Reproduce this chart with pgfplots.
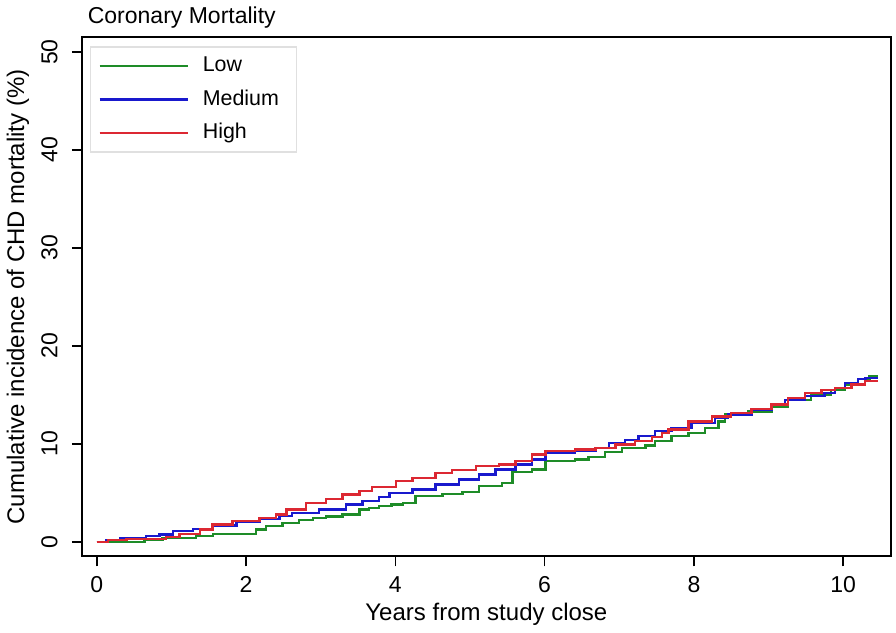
\documentclass[border=0pt]{standalone}
\usepackage{fontspec}
\setmainfont{Liberation Sans}
\usepackage{pgfplots}
\pgfplotsset{compat=1.18}
\definecolor{cLow}{RGB}{30,140,40}
\definecolor{cMed}{RGB}{25,25,205}
\definecolor{cHigh}{RGB}{220,40,50}
\begin{document}
\begin{tikzpicture}
\begin{axis}[
  scale only axis, width=404.5pt, height=259.5pt,
  xmin=-0.2, xmax=10.64, ymin=-1.5, ymax=51.5,
  xtick={0,2,...,10}, ytick={0,10,...,50},
  tick align=outside, tick pos=left, major tick length=5pt,
  axis line style={line width=1pt},
  tick style={line width=0.8pt, black},
  /pgf/number format/assume math mode=true,
  ticklabel style={font=\fontsize{11.5}{13}\selectfont},
  yticklabel style={xshift=-3.5pt, rotate=90, anchor=south},
  xticklabel style={yshift=-1.5pt},
  xlabel={Years from study close},
  ylabel={Cumulative incidence of CHD mortality (\%)},
  label style={font=\fontsize{12}{14}\selectfont},
  xlabel style={at={(axis description cs:0.5,-0.112)}, anchor=center},
  ylabel style={at={(axis description cs:-0.079,0.5)}, anchor=center},
  title={Coronary Mortality},
  title style={at={(axis description cs:0,1)}, anchor=base west, yshift=1pt, xshift=-0.5pt, font=\fontsize{11.5}{13}\selectfont},
  legend style={at={(axis description cs:0,1)}, anchor=north west, xshift=4pt, yshift=-4.5pt,
    draw=black!12, line width=0.6pt, inner xsep=4pt, inner ysep=2.5pt, row sep=2.75pt,
    font=\fontsize{10.7}{12}\selectfont,
    nodes={text height=8pt, text depth=2pt, inner ysep=2pt}},
  legend cell align=left,
  legend image code/.code={\draw[#1, line width=1.2pt] (0pt,0pt) -- (44pt,0pt); \path (49pt,0pt);},
  every axis plot/.append style={line width=1.2pt, const plot, mark=none},
]
\addplot[cLow] coordinates {
(0,0) (0.64,0.24) (0.88,0.4) (1.33,0.58) (1.56,0.82) (2.13,1.26) (2.27,1.6)
(2.49,1.94) (2.71,2.2) (2.9,2.4) (3.07,2.6) (3.29,2.8) (3.52,3.3) (3.65,3.47)
(3.78,3.64) (3.95,3.8) (4.1,3.98) (4.27,4.66) (4.63,4.9) (4.9,5.07) (5.12,5.68)
(5.43,6.02) (5.57,7.1) (5.83,7.38) (6.01,8.23) (6.41,8.4) (6.59,8.67) (6.81,9.15)
(7.04,9.59) (7.35,9.83) (7.48,10.28) (7.7,10.8) (7.93,11.1) (8.15,11.6) (8.33,12.3)
(8.42,13.0) (8.73,13.3) (9.04,13.8) (9.26,14.5) (9.57,15.0) (9.84,15.5) (10.02,16.05)
(10.2,16.6) (10.35,16.9) (10.47,16.9)};
\addlegendentry{\makebox[41pt][l]{Low}}
\addplot[cMed] coordinates {
(0,0) (0.13,0.17) (0.31,0.41) (0.66,0.58) (0.84,0.75) (1.02,1.1) (1.29,1.33)
(1.55,1.66) (1.87,2.0) (2.18,2.35) (2.45,2.62) (2.62,2.96) (2.98,3.3) (3.34,3.8)
(3.56,4.15) (3.78,4.59) (3.92,5.0) (4.23,5.34) (4.54,5.85) (4.85,6.36) (5.12,6.87)
(5.34,7.38) (5.61,7.89) (5.83,8.4) (6.01,9.08) (6.41,9.26) (6.68,9.6) (6.86,10.1)
(7.08,10.4) (7.26,10.8) (7.48,11.3) (7.7,11.6) (7.97,12.1) (8.28,12.65) (8.46,13.0)
(8.77,13.5) (9.04,14.0) (9.22,14.5) (9.49,14.9) (9.75,15.2) (9.89,15.7) (10.02,16.2)
(10.2,16.6) (10.3,16.7) (10.47,16.7)};
\addlegendentry{\makebox[41pt][l]{Medium}}
\addplot[cHigh] coordinates {
(0,0) (0.15,0.2) (0.4,0.3) (0.93,0.5) (1.11,0.8) (1.38,1.26) (1.55,1.77) (1.82,2.11)
(2.18,2.45) (2.4,2.79) (2.54,3.3) (2.8,3.98) (3.07,4.39) (3.29,4.83) (3.52,5.17)
(3.69,5.6) (4.01,6.19) (4.23,6.53) (4.54,7.04) (4.76,7.31) (5.08,7.72) (5.39,7.89)
(5.61,8.23) (5.83,8.91) (6.01,9.26) (6.41,9.42) (6.68,9.6) (6.95,9.93) (7.21,10.28)
(7.44,10.71) (7.57,11.1) (7.66,11.46) (7.93,12.3) (8.24,12.8) (8.5,13.16) (8.77,13.57)
(9.04,14.0) (9.26,14.7) (9.49,15.2) (9.71,15.5) (9.89,15.7) (10.11,16.05) (10.29,16.4)
(10.47,16.4)};
\addlegendentry{\makebox[41pt][l]{High}}
\end{axis}
\path ([xshift=2.5pt]current axis.east);
\end{tikzpicture}
\end{document}
